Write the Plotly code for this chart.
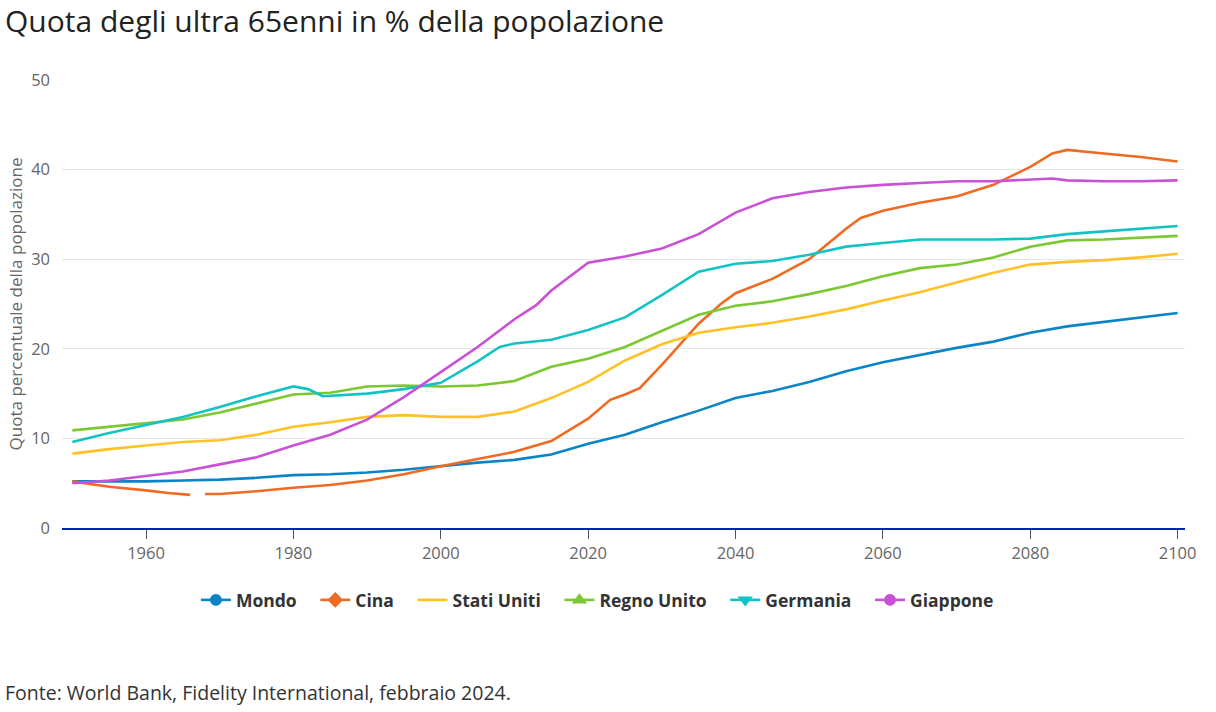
import plotly.graph_objects as go

years = [1950, 1955, 1960, 1965, 1970, 1975, 1980, 1985, 1990, 1995, 2000, 2005, 2010, 2015,
         2020, 2025, 2030, 2035, 2040, 2045, 2050, 2055, 2060, 2065, 2070, 2075, 2080, 2085,
         2090, 2095, 2100]

mondo = [5.2, 5.2, 5.2, 5.3, 5.4, 5.6, 5.9, 6.0, 6.2, 6.5, 6.9, 7.3, 7.6, 8.2,
         9.4, 10.4, 11.8, 13.1, 14.5, 15.3, 16.3, 17.5, 18.5, 19.3, 20.1, 20.8, 21.8, 22.5,
         23.0, 23.5, 24.0]

cina_years = [1950, 1955, 1960, 1963, 1966, 1967, 1968, 1970, 1975, 1980, 1985, 1990, 1995, 2000,
              2005, 2010, 2015, 2020, 2023, 2025, 2027, 2030, 2035, 2038, 2040, 2045, 2050,
              2055, 2057, 2060, 2065, 2070, 2075, 2080, 2083, 2085, 2090, 2095, 2100]
cina = [5.2, 4.6, 4.2, 3.9, 3.7, None, 3.8, 3.8, 4.1, 4.5, 4.8, 5.3, 6.0, 6.9,
        7.7, 8.5, 9.7, 12.2, 14.3, 14.9, 15.6, 18.2, 22.8, 25.0, 26.2, 27.8, 30.0,
        33.4, 34.6, 35.4, 36.3, 37.0, 38.3, 40.3, 41.8, 42.2, 41.8, 41.4, 40.9]

stati_uniti = [8.3, 8.8, 9.2, 9.6, 9.8, 10.4, 11.3, 11.8, 12.4, 12.6, 12.4, 12.4, 13.0, 14.5,
               16.3, 18.7, 20.5, 21.8, 22.4, 22.9, 23.6, 24.4, 25.4, 26.3, 27.4, 28.5, 29.4, 29.7,
               29.9, 30.2, 30.6]

regno_unito = [10.9, 11.3, 11.7, 12.1, 12.9, 13.9, 14.9, 15.1, 15.8, 15.9, 15.8, 15.9, 16.4, 18.0,
               18.9, 20.2, 22.0, 23.8, 24.8, 25.3, 26.1, 27.0, 28.1, 29.0, 29.4, 30.2, 31.4, 32.1,
               32.2, 32.4, 32.6]

ger_years = [1950, 1955, 1960, 1965, 1970, 1975, 1980, 1982, 1984, 1990, 1995, 2000, 2005, 2008,
             2010, 2015, 2020, 2025, 2030, 2035, 2040, 2045, 2050, 2055, 2060, 2065, 2070,
             2075, 2080, 2085, 2090, 2095, 2100]
germania = [9.6, 10.6, 11.5, 12.4, 13.5, 14.7, 15.8, 15.5, 14.7, 15.0, 15.5, 16.2, 18.6, 20.2,
            20.6, 21.0, 22.1, 23.5, 26.0, 28.6, 29.5, 29.8, 30.5, 31.4, 31.8, 32.2, 32.2,
            32.2, 32.3, 32.8, 33.1, 33.4, 33.7]

jap_years = [1950, 1955, 1960, 1965, 1970, 1975, 1980, 1985, 1990, 1995, 2000, 2005, 2010, 2013,
             2015, 2020, 2025, 2030, 2035, 2040, 2045, 2050, 2055, 2060, 2065, 2070, 2075,
             2080, 2083, 2085, 2090, 2095, 2100]
giappone = [5.0, 5.3, 5.8, 6.3, 7.1, 7.9, 9.2, 10.4, 12.1, 14.6, 17.4, 20.2, 23.3, 24.9,
            26.5, 29.6, 30.3, 31.2, 32.8, 35.2, 36.8, 37.5, 38.0, 38.3, 38.5, 38.7, 38.7,
            38.9, 39.0, 38.8, 38.7, 38.7, 38.8]

x_ticks = [1960, 1980, 2000, 2020, 2040, 2060, 2080, 2100]
y_ticks = [0, 10, 20, 30, 40, 50]

series = [
    ("Mondo", years, mondo, "#0a84c6", "circle"),
    ("Cina", cina_years, cina, "#f06a22", "diamond"),
    ("Stati Uniti", years, stati_uniti, "#ffc125", "line-ew"),
    ("Regno Unito", years, regno_unito, "#7cc832", "triangle-up"),
    ("Germania", ger_years, germania, "#12c3c5", "triangle-down"),
    ("Giappone", jap_years, giappone, "#c951d6", "circle"),
]

fig = go.Figure()
for name, xs, ys, color, sym in series:
    fig.add_trace(go.Scatter(x=xs, y=ys, mode="lines", name=name, showlegend=False,
                             line=dict(color=color, width=2.6), connectgaps=False,
                             hoverinfo="skip"))
for name, xs, ys, color, sym in series:
    fig.add_trace(go.Scatter(x=[None], y=[None], mode="lines+markers",
                             name=name + "\u00a0\u00a0\u00a0",
                             line=dict(color=color, width=2.6),
                             marker=dict(color=color, symbol=sym, size=10,
                                         line=dict(color=color, width=2))))

H = 448  # plot height in px, for paper-coordinate placement
fig.update_layout(
    width=1216, height=712,
    margin=dict(l=62, r=31, t=80, b=184),
    paper_bgcolor="white", plot_bgcolor="white",
    font=dict(family="Open Sans", color="#666666"),
    showlegend=True,
    legend=dict(orientation="h", x=0.483, xanchor="center", y=(528 - 600) / H, yanchor="middle",
                font=dict(family="Open Sans", size=17.5, color="#333333", weight="bold"),
                itemwidth=30),
    annotations=[
        dict(text="Quota degli ultra 65enni in % della popolazione", xref="paper", yref="paper",
             x=0, xanchor="left", y=(528 - 20) / H, yanchor="middle",
             showarrow=False, font=dict(family="Open Sans", size=30, color="#222222"),
             xshift=-59),
        dict(text="Fonte: World Bank, Fidelity International, febbraio 2024.", xref="paper", yref="paper",
             x=0, xanchor="left", y=(528 - 692) / H, yanchor="middle",
             showarrow=False, font=dict(family="Open Sans", size=19.5, color="#333333"),
             xshift=-59),
    ],
)

fig.update_xaxes(range=[1948.6, 2101], tickvals=x_ticks,
                 showgrid=False, zeroline=False, showline=True, linecolor="#0022bb", linewidth=2,
                 ticks="outside", ticklen=9, tickcolor="#555555", tickwidth=1,
                 tickfont=dict(family="Open Sans", size=16.5, color="#666666"))
fig.update_yaxes(range=[0, 50], tickvals=y_ticks, showgrid=True,
                 gridcolor="#e6e6e6", gridwidth=1, zeroline=False, showline=False,
                 ticks="", ticklabelstandoff=11,
                 tickfont=dict(family="Open Sans", size=16.5, color="#666666"),
                 title=dict(text="Quota percentuale della popolazione", standoff=4,
                            font=dict(family="Open Sans", size=17, color="#666666")))

fig.write_html("out.html", config={"displayModeBar": False},
               post_script="document.body.style.margin='0';")
